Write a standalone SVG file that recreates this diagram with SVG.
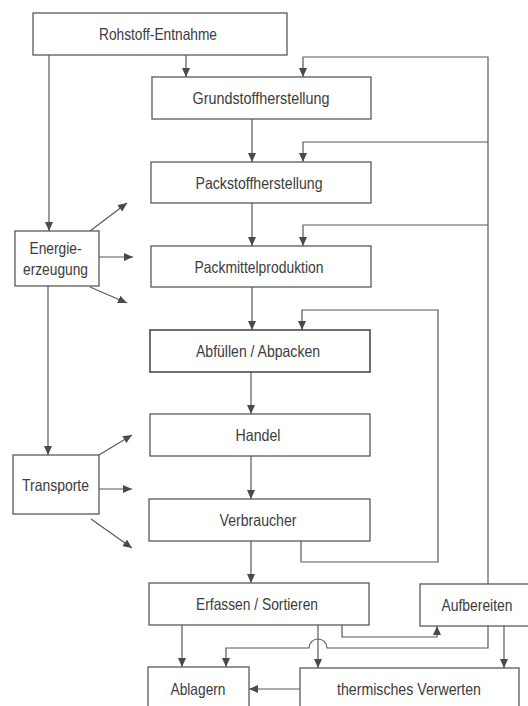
<svg xmlns="http://www.w3.org/2000/svg" width="528" height="706" viewBox="0 0 528 706">
  <style>
    .box { fill: #ffffff; stroke: #595959; stroke-width: 1.3; }
    .box.bold { stroke: #4a4a4a; stroke-width: 1.6; }
    .lbl { font-family: "Liberation Sans", Arial, sans-serif; font-size: 16.5px; fill: #3c3c3c; text-anchor: middle; }
    .wire { fill: none; stroke: #595959; stroke-width: 1.2; }
    .arr { marker-end: url(#head); }
  </style>
  <defs>
    <marker id="head" markerUnits="userSpaceOnUse" markerWidth="10" markerHeight="8" refX="9" refY="4" orient="auto">
      <path d="M0,0 L9,4 L0,8 z" fill="#4a4a4a"/>
    </marker>
  </defs>

  <rect width="528" height="706" fill="#ffffff"/>

  <!-- connectors -->
  <g id="connectors">
    <!-- main chain -->
    <path class="wire arr" d="M186,55 V77"/>
    <path class="wire arr" d="M49,55 V231"/>
    <path class="wire arr" d="M48,286 V455"/>
    <path class="wire arr" d="M252,119 V162"/>
    <path class="wire arr" d="M252,203 V246"/>
    <path class="wire arr" d="M252,287 V330"/>
    <path class="wire arr" d="M251,372 V414"/>
    <path class="wire arr" d="M251,456 V499"/>
    <path class="wire arr" d="M251,541 V583"/>

    <!-- recycling return line from Aufbereiten -->
    <path class="wire arr" d="M488,584 V57 H303 V77"/>
    <path class="wire arr" d="M488,142 H303 V162"/>
    <path class="wire arr" d="M488,225 H303 V246"/>

    <!-- reuse loop from Verbraucher -->
    <path class="wire arr" d="M301,541 V562 H438 V310 H302 V330"/>

    <!-- disposal paths -->
    <path class="wire arr" d="M182,625 V667"/>
    <path class="wire arr" d="M318,625 V668"/>
    <path class="wire arr" d="M342,625 V637 H437 V626"/>
    <path class="wire arr" d="M488,626 V648 H327 A9,9 0 0 0 309,648 H226 V667"/>
    <path class="wire arr" d="M504,626 V668"/>
    <path class="wire arr" d="M300,689 H249"/>

    <!-- energy supply -->
    <path class="wire arr" d="M90,231 L127,203"/>
    <path class="wire arr" d="M99,257 H133"/>
    <path class="wire arr" d="M90,287 L127,303"/>

    <!-- transport supply -->
    <path class="wire arr" d="M99,455 L132,435"/>
    <path class="wire arr" d="M99,489 H132"/>
    <path class="wire arr" d="M91,519 L132,548"/>
  </g>

  <!-- nodes -->
  <g id="rohstoff">
    <rect class="box" x="33" y="13" width="254" height="42"/>
    <text class="lbl" x="158" y="40" textLength="118" lengthAdjust="spacingAndGlyphs">Rohstoff-Entnahme</text>
  </g>
  <g id="grundstoff">
    <rect class="box" x="152" y="77" width="219" height="42"/>
    <text class="lbl" x="261" y="104" textLength="137" lengthAdjust="spacingAndGlyphs">Grundstoffherstellung</text>
  </g>
  <g id="packstoff">
    <rect class="box" x="151" y="162" width="220" height="41"/>
    <text class="lbl" x="259" y="188.5" textLength="127" lengthAdjust="spacingAndGlyphs">Packstoffherstellung</text>
  </g>
  <g id="packmittel">
    <rect class="box" x="151" y="246" width="220" height="41"/>
    <text class="lbl" x="259" y="272.5" textLength="129" lengthAdjust="spacingAndGlyphs">Packmittelproduktion</text>
  </g>
  <g id="abfuellen">
    <rect class="box bold" x="150" y="330" width="220" height="42"/>
    <text class="lbl" x="258" y="357" textLength="124" lengthAdjust="spacingAndGlyphs">Abfüllen / Abpacken</text>
  </g>
  <g id="handel">
    <rect class="box" x="150" y="414" width="220" height="42"/>
    <text class="lbl" x="258" y="441" textLength="45" lengthAdjust="spacingAndGlyphs">Handel</text>
  </g>
  <g id="verbraucher">
    <rect class="box" x="149" y="499" width="221" height="42"/>
    <text class="lbl" x="258" y="526" textLength="77" lengthAdjust="spacingAndGlyphs">Verbraucher</text>
  </g>
  <g id="erfassen">
    <rect class="box" x="149" y="583" width="220" height="42"/>
    <text class="lbl" x="257" y="610" textLength="122" lengthAdjust="spacingAndGlyphs">Erfassen / Sortieren</text>
  </g>
  <g id="aufbereiten">
    <rect class="box" x="420" y="584" width="112" height="42"/>
    <text class="lbl" x="477" y="611" textLength="71" lengthAdjust="spacingAndGlyphs">Aufbereiten</text>
  </g>
  <g id="ablagern">
    <rect class="box" x="148" y="667" width="101" height="60"/>
    <text class="lbl" x="198" y="694.5" textLength="55" lengthAdjust="spacingAndGlyphs">Ablagern</text>
  </g>
  <g id="thermisch">
    <rect class="box" x="300" y="668" width="219" height="60"/>
    <text class="lbl" x="409" y="694.5" textLength="144" lengthAdjust="spacingAndGlyphs">thermisches Verwerten</text>
  </g>
  <g id="energie">
    <rect class="box" x="15" y="231" width="84" height="55"/>
    <text class="lbl" x="55.5" y="254" textLength="52" lengthAdjust="spacingAndGlyphs">Energie-</text>
    <text class="lbl" x="55.5" y="275" textLength="65" lengthAdjust="spacingAndGlyphs">erzeugung</text>
  </g>
  <g id="transporte">
    <rect class="box" x="13" y="455" width="86" height="59"/>
    <text class="lbl" x="55.5" y="490.5" textLength="67" lengthAdjust="spacingAndGlyphs">Transporte</text>
  </g>
</svg>
